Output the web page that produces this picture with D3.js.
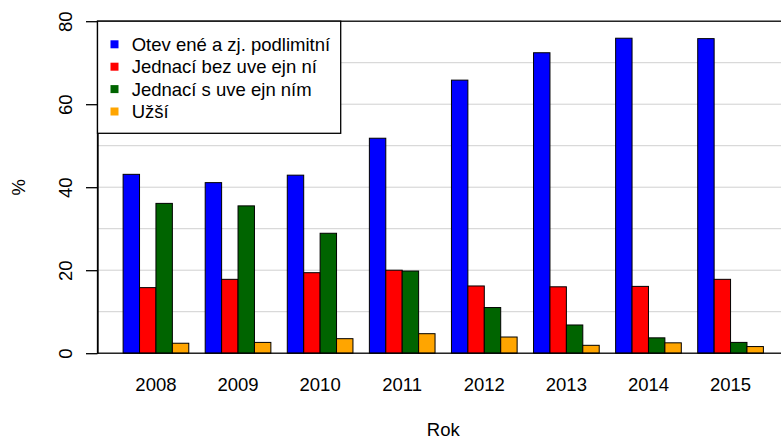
<!DOCTYPE html>
<html>
<head>
<meta charset="utf-8">
<script src="https://cdn.jsdelivr.net/npm/d3@7"></script>
<style>
  html, body { margin: 0; padding: 0; background: #fff; }
  svg { display: block; font-family: 'Liberation Sans', Arial, sans-serif; }
</style>
</head>
<body>
<div id="chart"></div>
<script>
// Chart data
let years = ['2008', '2009', '2010', '2011', '2012', '2013', '2014', '2015'];
let seriesNames = [
  'Otev ené a zj. podlimitní',
  'Jednací bez uve ejn ní',
  'Jednací s uve ejn ním',
  'Užší'
];
let otevrene = [43.1, 41.1, 42.9, 51.8, 65.8, 72.4, 75.9, 75.8];
let jednaciBez = [15.8, 17.8, 19.4, 20.0, 16.2, 16.0, 16.1, 17.8];
let jednaciS = [36.1, 35.5, 28.9, 19.8, 11.0, 6.8, 3.7, 2.6];
let uzsi = [2.4, 2.6, 3.5, 4.7, 3.9, 1.9, 2.5, 1.6];
let yTicks = [0, 20, 40, 60, 80];
let gridTicks = [10, 20, 30, 40, 50, 60, 70];
let colors = ['#0000ff', '#ff0000', '#006400', '#ffa500'];

let values = [otevrene, jednaciBez, jednaciS, uzsi];

let width = 781;
let height = 440;
let fontSize = 18.5;

// Plot region (R style: bars sit in user units 0..40, 4% extended on x)
let plotLeft = 97.5;
let plotRight = 789;
let plotTop = 21.2;
let plotBottom = 353.2;

let svg = d3.select('#chart')
  .append('svg')
  .attr('width', width)
  .attr('height', height)
  .style('font-size', fontSize + 'px');

// x in barplot user units
let xUnits = d3.scaleLinear()
  .domain([-0.56, 41.56])
  .range([plotLeft, plotRight]);

// groups of 4 bars with one bar of space before each group
let x0 = d3.scaleBand()
  .domain(years)
  .range([xUnits(0), xUnits(40)])
  .paddingInner(0.2)
  .paddingOuter(0.1)
  .align(1);

let x1 = d3.scaleBand()
  .domain(d3.range(seriesNames.length))
  .range([0, x0.bandwidth()]);

let y = d3.scaleLinear()
  .domain([0, 80])
  .range([plotBottom, plotTop]);

// Grid lines
svg.append('g')
  .selectAll('line')
  .data(gridTicks)
  .enter()
  .append('line')
  .attr('x1', plotLeft)
  .attr('x2', plotRight)
  .attr('y1', (d) => y(d))
  .attr('y2', (d) => y(d))
  .style('stroke', '#d0d0d0')
  .style('stroke-width', 1);

// Bars
let groups = svg.append('g')
  .selectAll('g')
  .data(years)
  .enter()
  .append('g')
  .attr('transform', (d) => 'translate(' + x0(d) + ',0)');

groups.selectAll('rect')
  .data((d, i) => values.map((s, j) => ({ series: j, value: s[i] })))
  .enter()
  .append('rect')
  .attr('x', (d) => x1(d.series))
  .attr('y', (d) => y(d.value))
  .attr('width', x1.bandwidth())
  .attr('height', (d) => y(0) - y(d.value))
  .style('fill', (d) => colors[d.series])
  .style('stroke', '#000')
  .style('stroke-width', 1);

// Plot box
svg.append('rect')
  .attr('x', plotLeft)
  .attr('y', plotTop)
  .attr('width', plotRight - plotLeft)
  .attr('height', plotBottom - plotTop)
  .style('fill', 'none')
  .style('stroke', '#000')
  .style('stroke-width', 1.3);

// Y axis
let yAxis = svg.append('g')
  .attr('transform', 'translate(' + plotLeft + ',0)')
  .call(d3.axisLeft(y).tickValues(yTicks).tickSize(11.5).tickSizeOuter(0).tickPadding(0));

yAxis.select('.domain')
  .style('stroke', '#000')
  .style('stroke-width', 1.3);
yAxis.selectAll('.tick line')
  .style('stroke', '#000')
  .style('stroke-width', 1.3);
yAxis.selectAll('.tick text')
  .attr('x', null)
  .attr('dy', null)
  .attr('transform', 'translate(-25.5,0) rotate(-90)')
  .style('text-anchor', 'middle')
  .style('font-size', fontSize + 'px')
  .style('font-family', 'Liberation Sans, Arial, sans-serif')
  .style('fill', '#000');

// X labels (no axis line in barplot)
svg.append('g')
  .selectAll('text')
  .data(years)
  .enter()
  .append('text')
  .attr('x', (d) => x0(d) + x0.bandwidth() / 2)
  .attr('y', 391)
  .style('text-anchor', 'middle')
  .text((d) => d);

// Axis titles
svg.append('text')
  .attr('x', (plotLeft + plotRight) / 2)
  .attr('y', 436)
  .style('text-anchor', 'middle')
  .text('Rok');

svg.append('text')
  .attr('transform', 'translate(25,' + (plotTop + plotBottom) / 2 + ') rotate(-90)')
  .style('text-anchor', 'middle')
  .text('%');

// Legend
let legendRowHeight = 22.4;
let legend = svg.append('g')
  .attr('transform', 'translate(' + plotLeft + ',' + plotTop + ')');

legend.append('rect')
  .attr('x', 0)
  .attr('y', 0)
  .attr('width', 243.2)
  .attr('height', 112.1)
  .style('fill', '#fff')
  .style('stroke', '#000')
  .style('stroke-width', 1.3);

let legendItems = legend.selectAll('g.item')
  .data(seriesNames)
  .enter()
  .append('g')
  .attr('class', 'item')
  .attr('transform', (d, i) => 'translate(0,' + (23.1 + i * legendRowHeight) + ')');

legendItems.append('rect')
  .attr('x', 13)
  .attr('y', -4)
  .attr('width', 8)
  .attr('height', 8)
  .style('fill', (d, i) => colors[i]);

legendItems.append('text')
  .attr('x', 34.2)
  .attr('y', 6.6)
  .text((d) => d);
</script>
</body>
</html>
